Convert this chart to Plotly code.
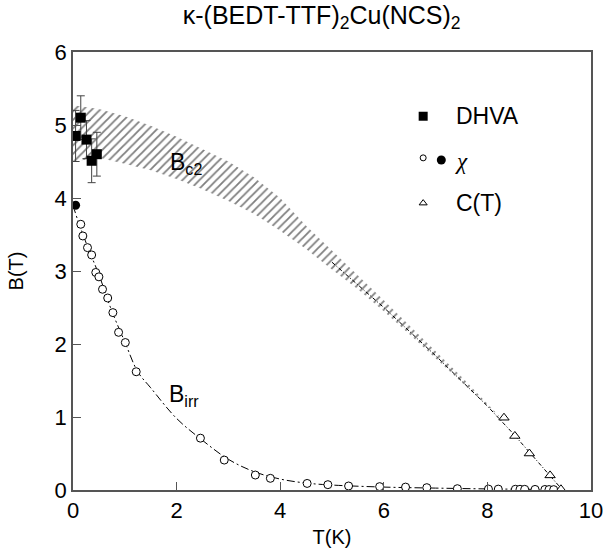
import plotly.graph_objects as go

# ---------------- data ----------------
# DHVA (filled squares with error bars)
dhva_T = [0.05, 0.15, 0.26, 0.36, 0.46]
dhva_B = [4.85, 5.10, 4.80, 4.51, 4.60]
dhva_err = [0.35, 0.30, 0.26, 0.30, 0.30]

# chi (open circles) and the filled circle at T->0
chi_T = [0.15, 0.19, 0.28, 0.36, 0.44, 0.50, 0.57, 0.67, 0.77, 0.88, 1.01, 1.22,
         2.46, 2.92, 3.52, 3.81, 4.52, 4.92, 5.32, 5.92, 6.42, 6.83, 7.42, 8.02,
         8.21, 8.54, 8.63, 8.72, 8.92, 9.11, 9.19, 9.28]
chi_B = [3.64, 3.48, 3.32, 3.22, 2.98, 2.92, 2.75, 2.63, 2.43, 2.16, 2.02, 1.62,
         0.71, 0.41, 0.205, 0.16, 0.09, 0.073, 0.055, 0.046, 0.04, 0.032, 0.018, 0.013,
         0.012, 0.01, 0.01, 0.009, 0.008, 0.007, 0.006, 0.005]
chi0_T = [0.05]
chi0_B = [3.90]

# C(T) (open triangles)
ct_T = [8.32, 8.53, 8.81, 9.21, 9.42]
ct_B = [0.99, 0.74, 0.50, 0.20, 0.01]

# Bc2 band
band_T = [0, 0.5, 1.0, 1.5, 2.0, 2.5, 3.0, 3.5, 4.0, 4.5, 5.0, 5.5, 6.0, 6.5, 7.0, 7.5, 8.0, 8.3]
band_up = [5.27, 5.22, 5.12, 4.99, 4.84, 4.67, 4.50, 4.28, 4.00, 3.62, 3.28, 2.95, 2.60, 2.25, 1.90, 1.55, 1.18, 0.97]
band_lo = [4.50, 4.55, 4.47, 4.38, 4.26, 4.12, 3.96, 3.78, 3.55, 3.30, 3.02, 2.75, 2.45, 2.13, 1.80, 1.48, 1.15, 0.96]

# dashed Bc2 continuation
bc2_T = [5.0, 6.0, 7.0, 8.0, 8.5, 9.0, 9.45]
bc2_B = [3.12, 2.50, 1.84, 1.15, 0.77, 0.37, 0.0]

# Birr dashed curve
birr_T = [0.0, 0.1, 0.3, 0.5, 0.75, 1.0, 1.25, 1.5, 2.0, 2.5, 3.0, 3.5, 4.0, 4.5, 5.0, 6.0, 7.0, 8.0, 9.0, 9.4]
birr_B = [3.90, 3.68, 3.30, 2.95, 2.45, 2.03, 1.62, 1.40, 0.98, 0.68, 0.42, 0.25, 0.15, 0.095, 0.068, 0.04, 0.026, 0.015, 0.008, 0.0]

FONT = "Arial, Liberation Sans, sans-serif"

fig = go.Figure()

# hatched band
fig.add_trace(go.Scatter(
    x=band_T + band_T[::-1], y=band_up + band_lo[::-1],
    fill="toself", mode="lines", line=dict(width=0, color="rgba(0,0,0,0)"),
    fillcolor="rgba(0,0,0,0)",
    fillpattern=dict(shape="/", fgcolor="black", bgcolor="white", size=6, solidity=0.3),
    showlegend=False, hoverinfo="skip"))

fig.add_trace(go.Scatter(x=bc2_T, y=bc2_B, mode="lines",
                         line=dict(color="black", width=1, dash="4px,2px,1px,2px"),
                         showlegend=False))
fig.add_trace(go.Scatter(x=birr_T, y=birr_B, mode="lines", line_shape="spline",
                         line=dict(color="black", width=1, dash="8px,3px,2px,3px"),
                         showlegend=False))

fig.add_trace(go.Scatter(x=chi_T, y=chi_B, mode="markers",
                         marker=dict(symbol="circle", size=8, color="white",
                                     line=dict(color="black", width=1)),
                         showlegend=False))
fig.add_trace(go.Scatter(x=chi0_T, y=chi0_B, mode="markers",
                         marker=dict(symbol="circle", size=9, color="black"),
                         showlegend=False))
fig.add_trace(go.Scatter(x=ct_T, y=ct_B, mode="markers",
                         marker=dict(symbol="triangle-up", size=9, color="white",
                                     line=dict(color="black", width=1)),
                         showlegend=False))
fig.add_trace(go.Scatter(x=dhva_T, y=dhva_B, mode="markers",
                         error_y=dict(type="data", array=dhva_err, color="#444",
                                      thickness=1, width=4),
                         marker=dict(symbol="square", size=10, color="black"),
                         showlegend=False))

# custom legend keys
fig.add_trace(go.Scatter(x=[6.76], y=[5.12], mode="markers",
                         marker=dict(symbol="square", size=9, color="black"), showlegend=False))
fig.add_trace(go.Scatter(x=[6.76], y=[4.55], mode="markers",
                         marker=dict(symbol="circle", size=6, color="white",
                                     line=dict(color="black", width=1)), showlegend=False))
fig.add_trace(go.Scatter(x=[7.11], y=[4.52], mode="markers",
                         marker=dict(symbol="circle", size=9, color="black"), showlegend=False))
fig.add_trace(go.Scatter(x=[6.76], y=[3.93], mode="markers",
                         marker=dict(symbol="triangle-up", size=7, color="white",
                                     line=dict(color="black", width=1)), showlegend=False))

ann = [
    dict(x=7.35, y=5.12, text="DHVA", fam=FONT),
    dict(x=7.33, y=4.50, text="<i>χ</i>", fam="Liberation Serif, Times New Roman, serif"),
    dict(x=7.35, y=3.93, text="C(T)", fam=FONT),
]
for a in ann:
    fig.add_annotation(x=a["x"], y=a["y"], text=a["text"], xref="x", yref="y",
                       xanchor="left", yanchor="middle", showarrow=False,
                       font=dict(family=a["fam"], size=23, color="black"))

fig.add_annotation(x=1.84, y=4.47, text="B<sub>c2</sub>", xref="x", yref="y",
                   xanchor="left", yanchor="middle", showarrow=False,
                   font=dict(family=FONT, size=23, color="black"))
fig.add_annotation(x=1.82, y=1.30, text="B<sub>irr</sub>", xref="x", yref="y",
                   xanchor="left", yanchor="middle", showarrow=False,
                   font=dict(family=FONT, size=23, color="black"))

fig.update_layout(
    width=607, height=548,
    margin=dict(l=73, r=16, t=52, b=58),
    paper_bgcolor="white", plot_bgcolor="white",
    font=dict(family=FONT, color="black"),
    title=dict(text="κ-(BEDT-TTF)<sub>2</sub>Cu(NCS)<sub>2</sub>",
               x=0.53, xanchor="center", y=0.972, yanchor="middle",
               font=dict(family=FONT, size=25, color="black")),
)
fig.update_xaxes(range=[0, 10], tickvals=[0, 2, 4, 6, 8, 10], ticks="inside", ticklen=8,
                 tickcolor="#555", showline=True, linecolor="#555", linewidth=1.5,
                 mirror=True, showgrid=False, zeroline=False, automargin=False,
                 tickfont=dict(family=FONT, size=22),
                 title=dict(text="T(K)", font=dict(family=FONT, size=20), standoff=10))
fig.update_yaxes(range=[0, 6], tickvals=[0, 1, 2, 3, 4, 5, 6], ticks="inside", ticklen=8,
                 tickcolor="#555", showline=True, linecolor="#555", linewidth=1.5,
                 mirror=True, showgrid=False, zeroline=False, automargin=False,
                 tickfont=dict(family=FONT, size=22),
                 title=dict(text="B(T)", font=dict(family=FONT, size=20), standoff=26))

fig.write_html("out.html")
